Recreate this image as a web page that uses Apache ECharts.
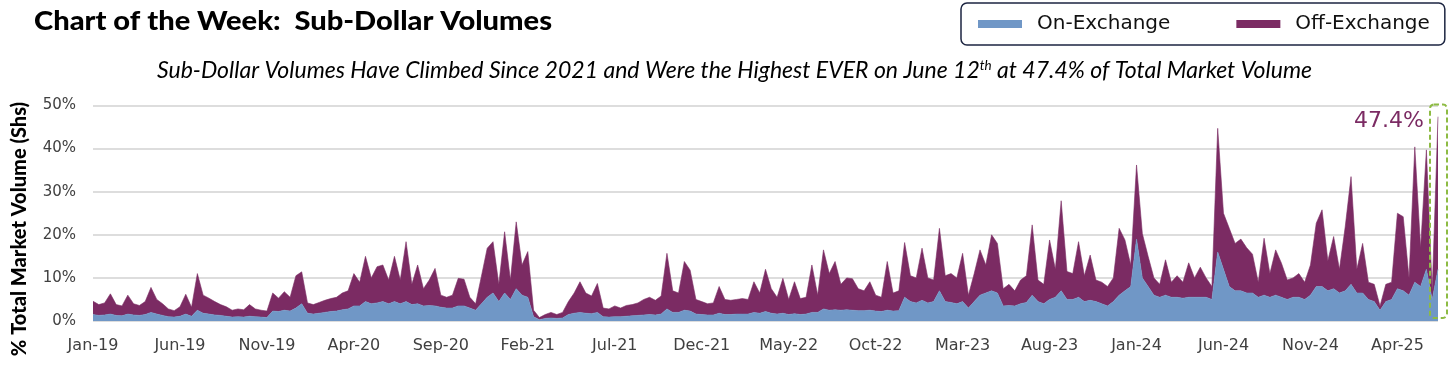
<!DOCTYPE html>
<html><head><meta charset="utf-8">
<script src="https://cdn.jsdelivr.net/npm/echarts@6/dist/echarts.min.js"></script>
<style>html,body{margin:0;padding:0;background:#fff}#c{width:1456px;height:367px}</style>
</head><body><div id="c"></div>
<script>
// Sampled roughly every 10 days (3 samples per month) from Jan-2019 to Jun-12-2025, in % of total market volume
const onExchange = [
1.5,1.3,1.4, 1.6,1.3,1.2, 1.6,1.4,1.3, 1.5,2.0,1.6, 1.3,1.0,0.9, 1.1,1.6,1.1,
2.5,1.8,1.6, 1.4,1.3,1.1, 0.9,1.0,0.9, 1.1,1.0,0.9, 0.8,2.3,2.2, 2.5,2.3,3.0,
4.0,1.8,1.6, 1.8,2.0,2.2, 2.3,2.6,2.8, 3.5,3.5,4.5, 4.0,4.2,4.5, 4.0,4.5,4.0,
4.5,3.8,4.0, 3.5,3.6,3.5, 3.2,3.0,3.0, 3.5,3.5,3.0, 2.5,4.0,5.5, 6.5,4.5,6.5,
5.0,7.5,6.0, 5.5,1.0,0.3, 0.6,0.7,0.6, 0.7,1.5,1.8, 2.0,1.8,1.7, 2.0,1.0,0.9,
1.0,1.0,1.1, 1.2,1.3,1.4, 1.5,1.4,1.6, 2.8,2.0,2.0, 2.5,2.3,1.6, 1.5,1.4,1.4,
1.8,1.5,1.5, 1.6,1.6,1.6, 2.0,1.8,2.2, 1.8,1.6,1.8, 1.5,1.7,1.5, 1.6,2.0,2.0,
2.8,2.5,2.6, 2.5,2.6,2.5, 2.4,2.4,2.5, 2.3,2.2,2.5, 2.3,2.4,5.5, 4.5,4.2,4.8,
4.2,4.5,7.0, 4.5,4.3,4.0, 4.5,3.0,4.5, 6.0,6.5,7.0, 6.5,3.5,3.6, 3.5,4.0,4.3,
6.0,4.5,4.0, 5.0,5.5,7.0, 5.0,5.0,5.5, 4.5,4.8,4.5, 4.0,3.5,4.5, 6.0,7.0,8.0,
19.0,10.0,8.0, 6.0,5.5,6.0, 5.5,5.5,5.3, 5.5,5.5,5.5, 5.5,5.0,16.0, 12.0,8.0,7.0,
7.0,6.5,6.5, 5.5,6.0,5.5, 6.0,5.5,5.0, 5.5,5.5,5.0, 6.0,8.0,8.0, 7.0,7.5,6.5,
7.0,8.5,6.5, 6.5,5.0,4.5, 2.5,4.5,5.0, 7.5,7.0,6.0, 9.0,8.0,12.0, 5.0,12.0
];
const offExchange = [
3.1,2.5,2.8, 4.7,2.5,2.3, 4.4,2.6,2.3, 3.0,5.8,3.4, 2.7,1.8,1.5, 2.2,4.6,2.1,
8.5,4.2,3.7, 3.1,2.5,2.2, 1.6,1.8,1.7, 2.7,1.8,1.6, 1.5,4.2,3.1, 4.3,3.2,7.5,
7.4,2.4,2.2, 2.5,2.8,3.0, 3.2,3.9,4.2, 7.5,5.5,10.5, 6.0,8.4,8.5, 5.5,10.5,5.5,
13.9,4.7,9.0, 4.0,5.9,8.7, 2.8,2.5,3.0, 6.4,6.2,2.5, 1.5,6.4,11.4, 11.9,4.0,14.2,
4.5,15.5,7.0, 10.6,1.5,0.5, 0.9,1.3,0.9, 1.3,3.0,4.7, 7.1,4.7,4.1, 6.7,2.0,1.9,
2.5,2.0,2.5, 2.6,2.9,3.6, 4.0,3.4,4.2, 12.9,5.0,4.5, 11.3,9.5,3.4, 3.0,2.6,2.8,
6.2,3.5,3.3, 3.4,3.6,3.4, 7.1,4.7,9.8, 5.7,3.9,8.1, 3.5,7.4,3.7, 3.9,11.0,4.0,
13.7,8.5,11.2, 6.0,7.4,7.3, 5.1,4.6,6.6, 3.7,3.3,11.3, 4.2,4.6,12.7, 6.0,5.8,12.1,
5.8,5.0,14.5, 6.0,6.7,6.0, 11.2,3.0,6.5, 10.5,6.5,13.0, 11.5,4.0,4.9, 3.5,5.5,6.2,
16.3,5.0,4.5, 13.8,6.5,20.9, 6.5,6.0,12.9, 6.0,10.5,5.0, 5.0,4.5,5.5, 15.5,11.8,5.0,
17.2,10.3,7.0, 4.0,3.0,8.2, 3.5,5.0,3.7, 8.0,4.5,7.0, 4.5,3.0,28.7, 13.0,13.5,11.0,
12.0,10.5,9.0, 3.5,13.2,5.5, 10.5,7.9,4.5, 4.5,5.5,4.0, 7.0,14.7,17.8, 7.0,12.1,5.5,
14.9,25.0,5.5, 11.5,4.0,4.0, 1.0,4.0,4.0, 17.5,17.2,4.0, 31.4,9.0,27.7, 2.0,35.4
];
const xTickLabels = ['Jan-19','Jun-19','Nov-19','Apr-20','Sep-20','Feb-21','Jul-21','Dec-21',
  'May-22','Oct-22','Mar-23','Aug-23','Jan-24','Jun-24','Nov-24','Apr-25'];
const seriesNames = ['On-Exchange','Off-Exchange'];
const peakLabel = '47.4%';
const titleText = 'Chart of the Week:  Sub-Dollar Volumes';
const subtitleParts = ['Sub-Dollar Volumes Have Climbed Since 2021 and Were the Highest EVER on June 12', 'th', ' at 47.4% of Total Market Volume'];
const yTitle = '% Total Market Volume (Shs)';

const SAMPLES_PER_MONTH = 3;          // 3 samples per month starting Jan-2019
const LABEL_EVERY = 5 * SAMPLES_PER_MONTH; // a tick label every 5 months
const categories = onExchange.map((_, i) => String(i));

const BLUE = '#7097c6', PURPLE = '#7b2b63', LBL = '#404040';
const chart = echarts.init(document.getElementById('c'), null, {renderer: 'canvas'});

const mctx = document.createElement('canvas').getContext('2d');
function measure(font, text) { mctx.font = font; return mctx.measureText(text).width; }

chart.setOption({
  animation: false,
  grid: {left: 93, right: 18, top: 105.5, bottom: 46, containLabel: false},
  legend: {
    left: 961, top: 3, padding: [9, 15, 9, 17], itemGap: 66,
    itemWidth: 44, itemHeight: 8, icon: 'rect',
    borderColor: '#1c2541', borderWidth: 1.5, borderRadius: 6,
    textStyle: {fontFamily: 'DejaVu Sans', fontSize: 20, color: '#111', padding: [0, 0, 0, 10], lineHeight: 24},
    data: seriesNames
  },
  xAxis: {
    type: 'category', data: categories, boundaryGap: false,
    axisLine: {show: false}, axisTick: {show: false}, splitLine: {show: false},
    axisLabel: {
      margin: 17, color: LBL, fontFamily: 'DejaVu Sans', fontSize: 16,
      interval: (idx) => idx % LABEL_EVERY === 0,
      formatter: (v, idx) => xTickLabels[idx / LABEL_EVERY] || ''
    }
  },
  yAxis: {
    type: 'value', min: 0, max: 50, interval: 10,
    axisLine: {show: false}, axisTick: {show: false},
    splitLine: {lineStyle: {color: '#d2d2d2', width: 1.5}},
    axisLabel: {formatter: '{value}%', margin: 17, color: LBL, fontFamily: 'DejaVu Sans', fontSize: 15}
  },
  series: [
    {name: seriesNames[0], type: 'line', stack: 'vol', symbol: 'none', z: 3,
     data: onExchange,
     lineStyle: {width: 0.6, color: BLUE}, itemStyle: {color: BLUE}, areaStyle: {color: BLUE, opacity: 1}},
    {name: seriesNames[1], type: 'line', stack: 'vol', symbol: 'none', z: 2,
     data: offExchange,
     lineStyle: {width: 0.6, color: PURPLE}, itemStyle: {color: PURPLE}, areaStyle: {color: PURPLE, opacity: 1}}
  ]
});

// annotations
const titleFont = '900 26px Lato';
const titleScale = 518 / measure(titleFont, titleText);
const subFontA = 'italic 24px Lato', subFontS = 'italic 14px Lato';
const subW = measure(subFontA, subtitleParts[0]) + measure(subFontS, subtitleParts[1]) + measure(subFontA, subtitleParts[2]);
const subScale = 1155 / subW;

const last = categories.length - 1;
const pTop = chart.convertToPixel({gridIndex: 0}, [last, 50]);
const pBot = chart.convertToPixel({gridIndex: 0}, [last, 0.7]);
const boxL = pTop[0] - 8, boxR = pTop[0] + 9;

chart.setOption({
  graphic: [
    {type: 'text', x: 34, y: 22, scaleX: titleScale, silent: true,
     style: {text: titleText, font: titleFont, fill: '#000', textVerticalAlign: 'middle'}},
    {type: 'text', x: 157, y: 70, scaleX: subScale, silent: true,
     style: {text: '{a|' + subtitleParts[0] + '}{s|' + subtitleParts[1] + '}{a|' + subtitleParts[2] + '}',
       textVerticalAlign: 'middle',
       rich: {a: {font: subFontA, fill: '#000'}, s: {font: subFontS, fill: '#000', verticalAlign: 'top'}}}},
    {type: 'text', x: 20, y: 229, rotation: Math.PI / 2, silent: true,
     style: {text: yTitle, font: '900 20px Lato', fill: '#000', textAlign: 'center', textVerticalAlign: 'middle'}},
    {type: 'rect', silent: true, z: 10,
     shape: {x: boxL, y: pTop[1] - 1, width: boxR - boxL, height: pBot[1] - pTop[1] + 1, r: 4},
     style: {fill: 'none', stroke: '#8dbb43', lineWidth: 2, lineDash: [5, 3]}},
    {type: 'text', x: boxL - 6, y: 121, silent: true, z: 10,
     style: {text: peakLabel, font: '22px DejaVu Sans', fill: PURPLE, textAlign: 'right', textVerticalAlign: 'middle'}}
  ]
});
</script></body></html>
